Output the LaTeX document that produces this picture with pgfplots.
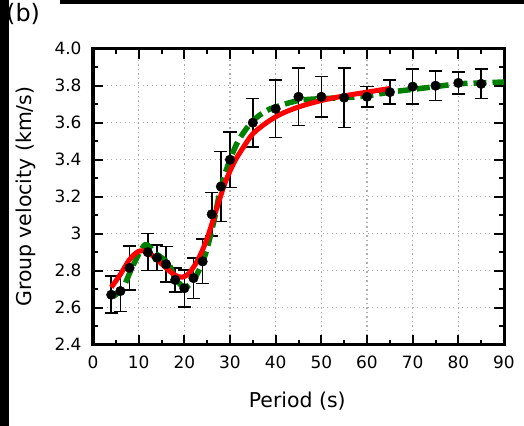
\documentclass[border=0pt]{standalone}
\usepackage{fontspec}
\setmainfont{DejaVu Sans}
\usepackage{pgfplots}
\pgfplotsset{compat=1.18}
\usepackage{pgfplotstable}
\definecolor{fitgreen}{RGB}{0,128,0}
\definecolor{gridgray}{RGB}{175,175,175}

\pgfplotstableread{
x y e
4 2.67 0.10
6 2.69 0.11
8 2.815 0.12
12 2.90 0.10
14 2.87 0.07
16 2.835 0.095
18 2.75 0.065
20 2.705 0.10
22 2.76 0.11
24 2.85 0.12
26 3.105 0.117
28 3.255 0.19
30 3.40 0.15
35 3.60 0.13
40 3.675 0.155
45 3.74 0.155
50 3.74 0.11
55 3.735 0.16
60 3.74 0.055
65 3.765 0.065
70 3.795 0.095
75 3.80 0.08
80 3.815 0.06
85 3.81 0.08
}\obs

\pgfplotstableread{
x y
4.4 2.66
6.6 2.71
8.8 2.83
11.4 2.94
13.9 2.89
16.5 2.84
18 2.76
20.1 2.71
22.3 2.76
24.5 2.88
26.5 3.07
28 3.25
30 3.40
32 3.51
35 3.61
38 3.665
40 3.685
45 3.72
50 3.73
55 3.735
60 3.745
65 3.765
70 3.78
75 3.795
80 3.81
85 3.815
90 3.82
}\greenfit

\pgfplotstableread{
x y
4 2.71
6 2.78
8 2.86
10 2.905
12 2.90
14 2.86
16 2.815
18 2.775
19.5 2.765
21 2.785
23 2.86
25 2.975
27 3.13
29 3.28
31 3.39
33 3.47
35 3.54
38 3.60
41 3.645
45 3.685
50 3.72
55 3.745
60 3.765
65 3.785
}\redfit

\begin{document}
\begin{tikzpicture}
\useasboundingbox (0bp,0bp) rectangle (524bp,426bp);
\fill[black] (0bp,0bp) rectangle (8.5bp,426bp);
\fill[black] (60bp,422bp) rectangle (524bp,426bp);
\node[anchor=base west, inner sep=0pt, font=\fontsize{24}{24}\selectfont] at (6bp,404bp) {(b)};
\begin{axis}[
  at={(93bp,81.3bp)}, anchor=south west,
  scale only axis, width=411bp, height=296bp,
  xmin=0, xmax=90, ymin=2.4, ymax=4.0,
  xtick={0,10,...,90},
  xticklabels={0,10,20,30,40,50,60,70,80,90},
  ytick={2.4,2.6,2.8,3.0,3.2,3.4,3.6,3.8,4.0},
  yticklabels={2.4,2.6,2.8,3,3.2,3.4,3.6,3.8,4.0},
  minor x tick num=1, minor y tick num=1,
  tick align=inside,
  major tick length=10bp, minor tick length=5bp,
  every tick/.style={black, line width=2bp},
  axis line style={line width=3bp, black},
  grid=major,
  major grid style={gridgray, line width=1.2bp, dash pattern=on 1.2bp off 3.3bp},
  tick label style={font=\fontsize{17}{17}\selectfont},
  xticklabel style={yshift=-8bp},
  yticklabel style={xshift=-8bp},
  label style={font=\fontsize{20.5}{20.5}\selectfont},
  xlabel={Period (s)},
  ylabel={Group velocity (km/s)},
  xlabel style={at={(axis description cs:0.497,-0.19)}, anchor=center},
  ylabel style={at={(axis description cs:-0.163,0.5)}, anchor=center},
  clip=false,
]
\addplot[only marks, mark=*, mark size=4.8bp, black,
  error bars/.cd, y dir=both, y explicit,
  error bar style={line width=1.6bp, black},
  error mark options={rotate=90, mark size=6.5bp, line width=1.6bp, black}]
  table[x=x, y=y, y error=e] {\obs};
\addplot[fitgreen, line width=5.5bp, dash pattern=on 13bp off 6bp, smooth, tension=0.5, no marks] table[x=x,y=y] {\greenfit};
\addplot[red, line width=5bp, smooth, tension=0.5, no marks] table[x=x,y=y] {\redfit};
\end{axis}
\end{tikzpicture}
\end{document}
